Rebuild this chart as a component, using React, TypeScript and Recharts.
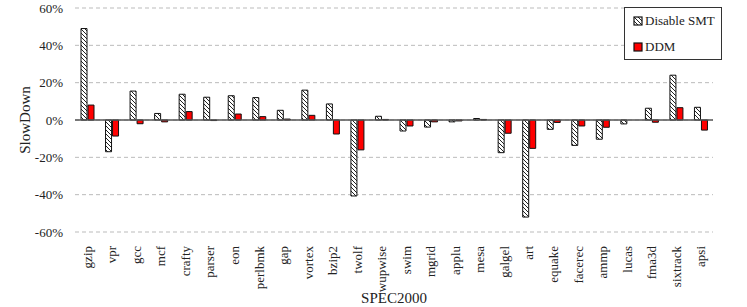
import { Bar, BarChart, CartesianGrid, Legend, ReferenceLine, XAxis, YAxis } from 'recharts'

// SPEC2000 benchmarks
const categories = [
  'gzip', 'vpr', 'gcc', 'mcf', 'crafty', 'parser', 'eon', 'perlbmk', 'gap', 'vortex', 'bzip2', 'twolf', 'wupwise',
  'swim', 'mgrid', 'applu', 'mesa', 'galgel', 'art', 'equake', 'facerec', 'ammp', 'lucas', 'fma3d', 'sixtrack', 'apsi'
]

// slowdown in percent
const disableSmt = [
  49, -17, 15.5, 3.5, 13.8, 12.2, 13, 12, 5.2, 16, 8.6, -40.7, 2,
  -5.9, -3.8, -1, 0.8, -17.5, -52, -5, -13.6, -10.3, -2.1, 6.3, 24, 6.8
]
const ddm = [
  8, -8.6, -2, -1, 4.5, -0.3, 3.2, 1.8, 0.5, 2.5, -7.5, -16, 0.3,
  -3.2, -1, -0.5, 0.3, -7.1, -15.2, -1.3, -3.2, -3.9, 0, -1.2, 6.6, -5.4
]

const yTicks = [-60, -40, -20, 0, 20, 40, 60]

const data = categories.map((name, i) => ({ name, smt: disableSmt[i], ddm: ddm[i] }))

const FONT = 'Liberation Serif'

const XTick = ({ x, y, payload }: any) => (
  <text
    transform={`translate(${x},${y + 6}) rotate(-90)`}
    textAnchor="end"
    dominantBaseline="central"
    style={{ fontFamily: FONT, fontSize: 13 }}
    fill="#222"
  >
    {payload.value}
  </text>
)

const LegendBox = () => (
  <div
    style={{
      border: '1.5px solid #333',
      background: '#fff',
      width: 96,
      height: 51,
      fontFamily: FONT,
      fontSize: 13,
      color: '#222',
      boxSizing: 'content-box'
    }}
  >
    <div style={{ display: 'flex', alignItems: 'center', height: 26, paddingLeft: 8 }}>
      <svg width={10} height={10} style={{ marginRight: 2 }}>
        <rect x={1} y={1} width={8} height={8} fill="url(#hatch)" stroke="#111" strokeWidth={1.2} />
      </svg>
      Disable SMT
    </div>
    <div style={{ display: 'flex', alignItems: 'center', height: 26, paddingLeft: 8 }}>
      <svg width={10} height={10} style={{ marginRight: 2 }}>
        <rect x={1} y={1} width={8} height={8} fill="#ff0000" stroke="#111" strokeWidth={1.2} />
      </svg>
      DDM
    </div>
  </div>
)

export default function App() {
  return (
    <div style={{ position: 'absolute', left: 0, top: 0 }}>
      <BarChart
        width={747}
        height={307}
        data={data}
        margin={{ top: 8, right: 34, bottom: 0, left: 0 }}
        barSize={6}
        barGap={1}
      >
        <defs>
          <pattern id="hatch" width={4} height={4} patternUnits="userSpaceOnUse">
            <rect width={4} height={4} fill="#fff" />
            <path d="M-1,-1 L5,5 M-1,3 L1,5 M3,-1 L5,1" stroke="#222" strokeWidth={1} />
          </pattern>
        </defs>
        <CartesianGrid vertical={false} stroke="#bbb" strokeDasharray="4 3" />
        <XAxis
          dataKey="name"
          interval={0}
          height={75}
          axisLine={false}
          tickLine={false}
          tick={<XTick />}
          label={{
            content: () => (
              <text x={394} y={303} textAnchor="middle" style={{ fontFamily: FONT, fontSize: 15 }} fill="#222">
                SPEC2000
              </text>
            )
          }}
        />
        <YAxis
          width={75}
          domain={[-60, 60]}
          ticks={yTicks}
          tickFormatter={(v) => `${v}%`}
          axisLine={false}
          tickLine={false}
          tickSize={0}
          tickMargin={12}
          tick={{ fill: '#222', style: { fontFamily: FONT, fontSize: 13 } }}
          label={{
            content: () => (
              <text
                transform="translate(25,120) rotate(-90)"
                textAnchor="middle"
                dominantBaseline="central"
                style={{ fontFamily: FONT, fontSize: 15 }}
                fill="#222"
              >
                SlowDown
              </text>
            )
          }}
        />
        <ReferenceLine y={0} stroke="#555" strokeWidth={1.5} />
        <Legend
          layout="horizontal"
          verticalAlign="middle"
          align="center"
          content={<LegendBox />}
          wrapperStyle={{ top: 7, left: 624, width: 99 }}
        />
        <Bar dataKey="smt" name="Disable SMT" fill="url(#hatch)" stroke="#111" strokeWidth={1} isAnimationActive={false} />
        <Bar dataKey="ddm" name="DDM" fill="#ff0000" stroke="#111" strokeWidth={1} isAnimationActive={false} />
      </BarChart>
    </div>
  )
}
